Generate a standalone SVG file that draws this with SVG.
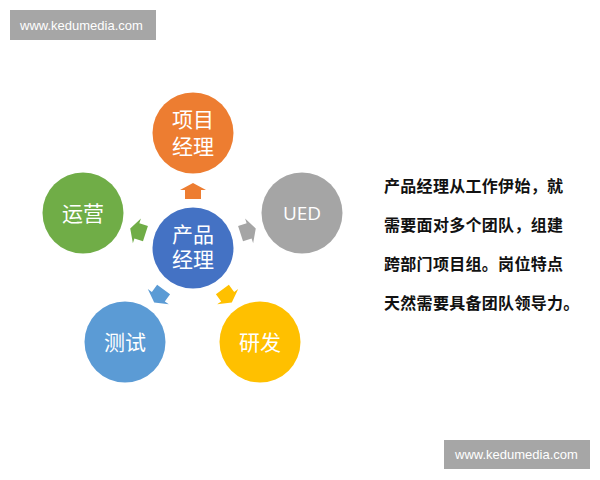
<svg xmlns="http://www.w3.org/2000/svg" width="600" height="480" viewBox="0 0 600 480">
<defs>
<style>
.wm{fill:#A6A6A6}
.wmt{fill:#ffffff;font-family:"Liberation Sans",Arial,sans-serif;font-size:13px}
.lbl{fill:#ffffff;font-family:"Noto Sans CJK SC","Noto Sans",sans-serif;font-size:21px;text-anchor:middle}
.ued{fill:#ffffff;font-family:"Open Sans","Noto Sans",sans-serif;font-size:19px;text-anchor:middle}
.body{fill:#111111;font-family:"Noto Sans CJK SC",sans-serif;font-size:16px;font-weight:bold;letter-spacing:0.3px}
</style>
<path id="arr" d="M50,-8 L59,-8 L59,-13 L66,0 L59,13 L59,8 L50,8 Z"/>
</defs>
<rect width="600" height="480" fill="#ffffff"/>
<g id="watermark-top">
<rect class="wm" x="10" y="10" width="146" height="30"/>
<text class="wmt" x="20" y="29.5">www.kedumedia.com</text>
</g>
<g id="connectors">
<use href="#arr" fill="#ED7D31" transform="translate(193,249) rotate(-90)"/>
<use href="#arr" fill="#A5A5A5" transform="translate(193,249) rotate(-18)"/>
<use href="#arr" fill="#FFC000" transform="translate(193,249) rotate(54)"/>
<use href="#arr" fill="#5B9BD5" transform="translate(193,249) rotate(126)"/>
<use href="#arr" fill="#70AD47" transform="translate(193,249) rotate(198)"/>
</g>
<g id="node-pm">
<circle cx="193" cy="248" r="40.5" fill="#4472C4"/>
<text class="lbl"><tspan x="193" y="242">产品</tspan><tspan x="193" y="267">经理</tspan></text>
</g>
<g id="node-project">
<circle cx="193" cy="133" r="40.5" fill="#ED7D31"/>
<text class="lbl"><tspan x="193" y="127">项目</tspan><tspan x="193" y="154">经理</tspan></text>
</g>
<g id="node-ued">
<circle cx="302" cy="213" r="40.5" fill="#A5A5A5"/>
<text class="ued" x="302" y="220">UED</text>
</g>
<g id="node-dev">
<circle cx="260" cy="342" r="40.5" fill="#FFC000"/>
<text class="lbl" x="260" y="350">研发</text>
</g>
<g id="node-test">
<circle cx="125" cy="342" r="40.5" fill="#5B9BD5"/>
<text class="lbl" x="125" y="350">测试</text>
</g>
<g id="node-ops">
<circle cx="83" cy="213" r="40.5" fill="#70AD47"/>
<text class="lbl" x="83" y="221">运营</text>
</g>
<g id="description">
<text class="body" x="384" y="192">产品经理从工作伊始，就</text>
<text class="body" x="384" y="231">需要面对多个团队，组建</text>
<text class="body" x="384" y="270">跨部门项目组。岗位特点</text>
<text class="body" x="384" y="309">天然需要具备团队领导力。</text>
</g>
<g id="watermark-bottom">
<rect class="wm" x="444" y="440" width="146" height="29"/>
<text class="wmt" x="455" y="459">www.kedumedia.com</text>
</g>
</svg>
